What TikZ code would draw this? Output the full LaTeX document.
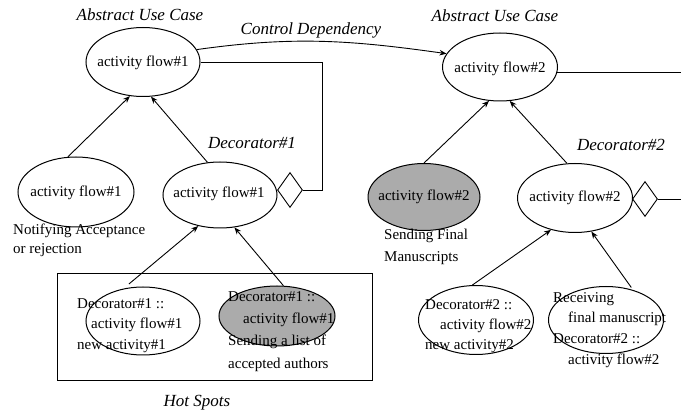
\documentclass[tikz,border=0pt]{standalone}
\usepackage{fontspec}
\setmainfont{Liberation Serif}
\usetikzlibrary{shapes.geometric,arrows.meta,calc}
\begin{document}
\begin{tikzpicture}[x=1pt,y=-1pt,
  flow/.style={draw, ellipse, line width=1pt, inner sep=0pt},
  hot/.style={flow, fill=black!33},
  flowtext/.style={inner sep=0pt, font=\fontsize{15}{18}\selectfont},
  caption/.style={inner sep=0pt, font=\fontsize{17}{20}\selectfont\itshape},
  note/.style={align=left, inner sep=0pt, anchor=north west, font=\fontsize{15}{20.5}\selectfont},
  link/.style={line width=0.9pt},
  inherit/.style={link, -{Stealth[length=7pt,width=5.5pt]}},
  deco/.style={draw, diamond, line width=0.9pt, minimum width=25pt, minimum height=35pt, inner sep=0pt, fill=white}]
\useasboundingbox (0,0) rectangle (681,414);

% frame around the hot spots
\node[draw, line width=1pt, minimum width=315pt, minimum height=107pt, inner sep=0pt, anchor=north west] (hsbox) at (57,273) {};

% abstract use cases
\node[flow, minimum width=114pt, minimum height=69pt] (uc1) at (143,62) {};
\node[flowtext] (uc1t) at (143,63) {activity flow\#1};
\node[flow, minimum width=115pt, minimum height=68pt] (uc2) at (500,67) {};
\node[flowtext] (uc2t) at (500,69) {activity flow\#2};

% concrete flows and decorators
\node[flow, minimum width=116pt, minimum height=70pt] (nf1) at (76,192) {};
\node[flowtext] (nf1t) at (76,193) {activity flow\#1};
\node[flow, minimum width=114pt, minimum height=66pt] (dec1) at (220,195) {};
\node[flowtext] (dec1t) at (219,194) {activity flow\#1};
\node[hot, minimum width=112pt, minimum height=67pt] (sf2) at (424,197) {};
\node[flowtext] (sf2t) at (424,197) {activity flow\#2};
\node[flow, minimum width=115pt, minimum height=69pt] (dec2) at (575,198) {};
\node[flowtext] (dec2t) at (575,198) {activity flow\#2};

% hot spot flows
\node[flow, minimum width=114pt, minimum height=68pt] (hs1a) at (143,321) {};
\node[hot, minimum width=116pt, minimum height=60pt] (hs1b) at (277,316) {};
\node[flow, minimum width=115pt, minimum height=69pt] (hs2a) at (476,320) {};
\node[flow, minimum width=115pt, minimum height=67pt] (hs2b) at (606,320) {};

% decorator diamonds
\node[deco] (dia1) at (290,190) {};
\node[deco] (dia2) at (645,199) {};

% captions
\node[caption] (cap1) at (140,15) {Abstract Use Case};
\node[caption] (cap2) at (495,16) {Abstract Use Case};
\node[caption] (capcd) at (311,30) {Control Dependency};
\node[caption] (capd1) at (252,143) {Decorator\#1};
\node[caption] (capd2) at (621,145) {Decorator\#2};
\node[caption] (caphs) at (197,403) {Hot Spots};

% notes beside and inside the ellipses
\node[note, font=\fontsize{15}{19}\selectfont] (n1) at (13,224) {Notifying Acceptance\\or rejection};
\node[note, font=\fontsize{15}{22}\selectfont] (n2) at (384,229) {Sending Final\\Manuscripts};
\node[note, font=\fontsize{15}{20.5}\selectfont] (n3) at (77,298) {Decorator\#1 ::\\\hspace*{14pt}activity flow\#1\\new activity\#1};
\node[note, font=\fontsize{15}{22.3}\selectfont] (n4) at (228,291) {Decorator\#1 ::\\\hspace*{15pt}activity flow\#1\\Sending a list of\\accepted authors};
\node[note, font=\fontsize{15}{20}\selectfont] (n5) at (425,299) {Decorator\#2 ::\\\hspace*{15pt}activity flow\#2\\new activity\#2};
\node[note, font=\fontsize{15}{20.7}\selectfont] (n6) at (553,292) {Receiving\\\hspace*{15pt}final manuscript\\Decorator\#2 ::\\\hspace*{15pt}activity flow\#2};

% frame edges
\coordinate (k1) at (322,190);
\coordinate (e2) at (681,72);
\coordinate (e3) at (681,199);

% control dependency
\draw[inherit] (uc1.13) to[out=8,in=172] (uc2.166);

% decorator links
\draw[link] (uc1.east) -| (k1) -- (dia1.east);
\draw[link] (uc2.-5) -- (e2 |- uc2.-5);
\draw[link] (dia2.east) -- (e3);

% inheritance arrows
\draw[inherit] (nf1.103) -- (uc1.249.6);
\draw[inherit] (dec1.111.5) -- (uc1.283);
\draw[inherit, shorten <=7pt] (hs1a.121) -- (dec1.235.5);
\draw[inherit] (hs1b.78) -- (dec1.294.4);
\draw[inherit] (sf2.90) -- (uc2.252);
\draw[inherit] (dec2.103) -- (uc2.286.7);
\draw[inherit] (hs2a.96) -- (dec2.233);
\draw[inherit, shorten <=3pt] (hs2b.48.7) -- (dec2.296.6);
\end{tikzpicture}
\end{document}
